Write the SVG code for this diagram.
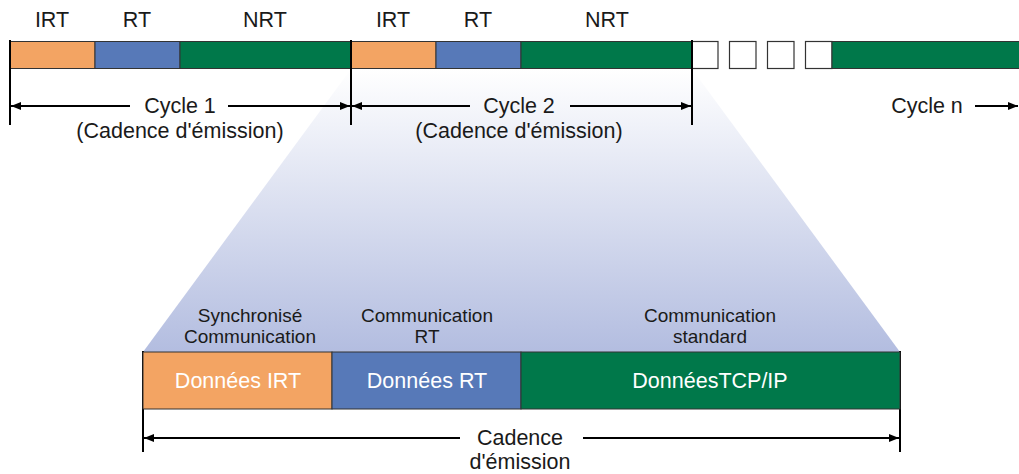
<svg xmlns="http://www.w3.org/2000/svg" width="1019" height="474" viewBox="0 0 1019 474">
<defs>
<linearGradient id="fan" x1="0" y1="69" x2="0" y2="352" gradientUnits="userSpaceOnUse">
<stop offset="0" stop-color="#ffffff"/>
<stop offset="1" stop-color="#b3bde0"/>
</linearGradient>
<marker id="ah" viewBox="0 0 10 8" refX="10" refY="4" markerWidth="10" markerHeight="8" markerUnits="userSpaceOnUse" orient="auto">
<path d="M0,0 L10,4 L0,8 z" fill="#000"/>
</marker>
<style>
.t{font-family:"Liberation Sans",Arial,sans-serif;fill:#1a1a1a;text-anchor:middle}
.big{font-size:21.5px}
.sm{font-size:19px}
.w{fill:#ffffff;font-size:21.5px}
.irt{fill:#f3a463;stroke:#333;stroke-width:1}
.rt{fill:#5779b8;stroke:#333;stroke-width:1}
.nrt{fill:#00784a;stroke:#333;stroke-width:1}
.emp{fill:#ffffff;stroke:#333;stroke-width:1.2}
.ln{stroke:#000;stroke-width:2;fill:none}
.ar{stroke:#000;stroke-width:2;fill:none;marker-end:url(#ah)}
</style>
</defs>
<rect width="1019" height="474" fill="#ffffff"/>
<polygon points="351,69 692,69 900,352 143,352" fill="url(#fan)"/>

<g id="labels-top">
<text class="t big" x="52" y="27">IRT</text>
<text class="t big" x="137" y="27">RT</text>
<text class="t big" x="265" y="27">NRT</text>
<text class="t big" x="393" y="27">IRT</text>
<text class="t big" x="478" y="27">RT</text>
<text class="t big" x="607" y="27">NRT</text>
</g>

<g id="cycle1">
<rect class="irt" x="10" y="41.5" width="85" height="27"/>
<rect class="rt" x="95" y="41.5" width="85" height="27"/>
<rect class="nrt" x="180" y="41.5" width="171" height="27"/>
</g>
<g id="cycle2">
<rect class="irt" x="351" y="41.5" width="85" height="27"/>
<rect class="rt" x="436" y="41.5" width="85" height="27"/>
<rect class="nrt" x="521" y="41.5" width="171" height="27"/>
</g>
<g id="cyclen">
<rect class="emp" x="692" y="41.5" width="26" height="27"/>
<rect class="emp" x="729.5" y="41.5" width="26.5" height="27"/>
<rect class="emp" x="767.5" y="41.5" width="26.5" height="27"/>
<rect class="emp" x="805.5" y="41.5" width="26.5" height="27"/>
<rect class="nrt" x="832" y="41.5" width="190" height="27"/>
</g>

<g id="connectors">
<line class="ln" x1="10" y1="40" x2="10" y2="125"/>
<line class="ln" x1="351" y1="40" x2="351" y2="125"/>
<line class="ln" x1="692" y1="40" x2="692" y2="125"/>
<line class="ar" x1="130" y1="106" x2="11" y2="106"/>
<line class="ar" x1="228" y1="106" x2="350" y2="106"/>
<line class="ar" x1="470" y1="106" x2="352" y2="106"/>
<line class="ar" x1="570" y1="106" x2="691" y2="106"/>
<line class="ar" x1="975" y1="106" x2="1018" y2="106"/>
<line class="ln" x1="143" y1="351" x2="143" y2="452"/>
<line class="ln" x1="900" y1="351" x2="900" y2="452"/>
<line class="ar" x1="460" y1="438" x2="144" y2="438"/>
<line class="ar" x1="583" y1="438" x2="899" y2="438"/>
</g>

<g id="cycle-labels">
<text class="t big" x="180" y="113">Cycle 1</text>
<text class="t big" x="180" y="138">(Cadence d'émission)</text>
<text class="t big" x="519" y="113">Cycle 2</text>
<text class="t big" x="519" y="138">(Cadence d'émission)</text>
<text class="t big" x="927" y="113">Cycle n</text>
</g>

<g id="irt-data">
<text class="t sm" x="250" y="322">Synchronisé</text>
<text class="t sm" x="250" y="343">Communication</text>
<rect class="irt" x="143" y="352" width="189" height="57"/>
<text class="t w" x="238" y="388">Données IRT</text>
</g>
<g id="rt-data">
<text class="t sm" x="427" y="322">Communication</text>
<text class="t sm" x="427" y="343">RT</text>
<rect class="rt" x="332" y="352" width="189" height="57"/>
<text class="t w" x="427" y="388">Données RT</text>
</g>
<g id="tcp-data">
<text class="t sm" x="710" y="322">Communication</text>
<text class="t sm" x="710" y="343">standard</text>
<rect class="nrt" x="521" y="352" width="379" height="57"/>
<text class="t w" x="710" y="388">DonnéesTCP/IP</text>
</g>

<g id="cadence-label">
<text class="t big" x="520" y="445">Cadence</text>
<text class="t big" x="520" y="469">d'émission</text>
</g>
</svg>
